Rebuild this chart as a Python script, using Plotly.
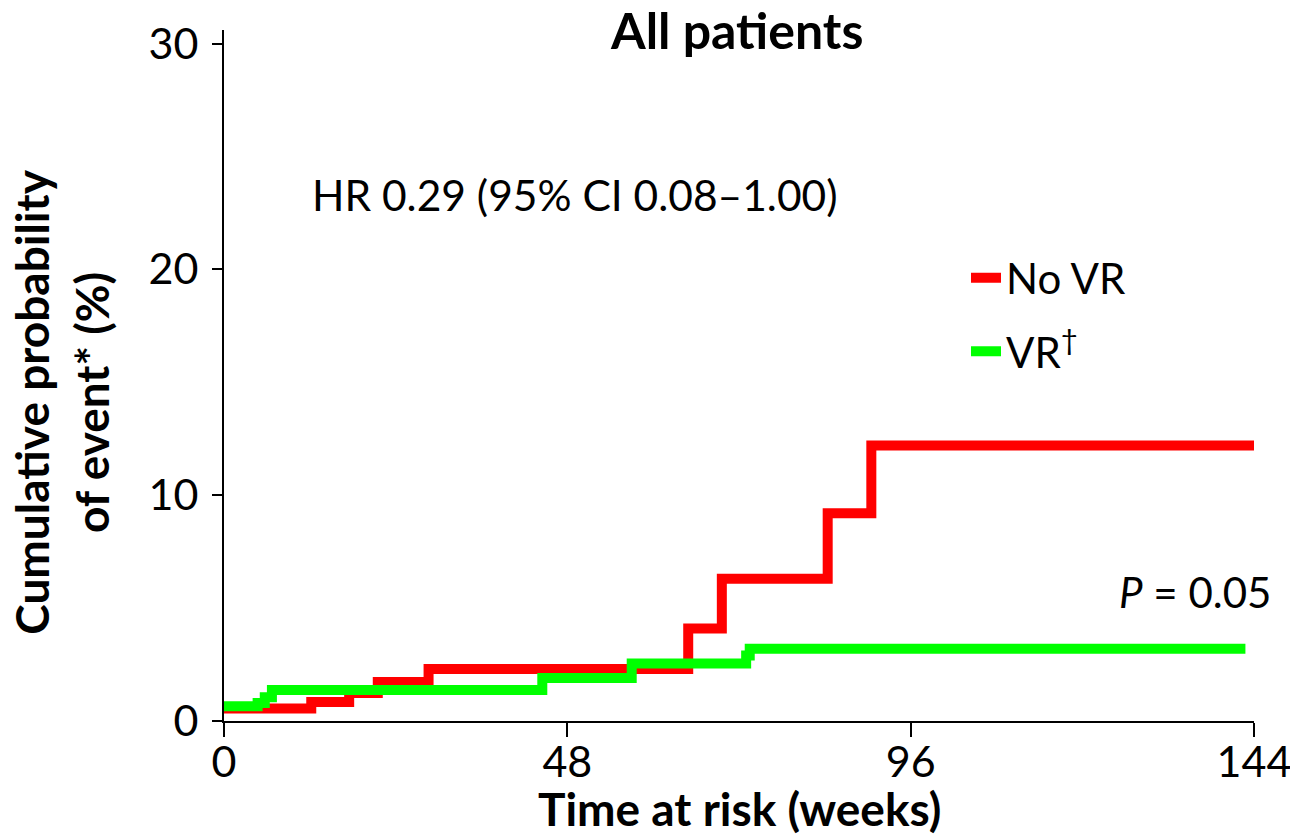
import plotly.graph_objects as go

# Kaplan-Meier style cumulative probability (%) by week
red_weeks = [0, 12.2, 17.5, 21.5, 28.6, 64.9, 69.6, 84.4, 90.5, 144]
red_pct = [0.55, 0.84, 1.24, 1.73, 2.3, 4.1, 6.3, 9.2, 12.2, 12.2]
green_weeks = [0, 4.7, 5.7, 6.7, 44.5, 57.0, 73.0, 73.5, 142.8]
green_pct = [0.65, 0.8, 1.05, 1.37, 1.9, 2.55, 2.9, 3.2, 3.2]

x_ticks = [0, 48, 96, 144]
y_ticks = [0, 10, 20, 30]
series_names = ["No VR", "VR<sup>†</sup>"]

FONT = "Lato"
L, R, T, B = 224, 36, 30, 114.5
PW, PH = 1290 - L - R, 836 - T - B


def px(xp):
    return (xp - L) / PW


def py(yp):
    return (836 - B - yp) / PH


fig = go.Figure()
fig.add_trace(go.Scatter(x=red_weeks, y=red_pct, mode="lines", line_shape="hv",
                         line=dict(color="#ff0000", width=10), name=series_names[0],
                         legendgroup="a"))
fig.add_trace(go.Scatter(x=green_weeks, y=green_pct, mode="lines", line_shape="hv",
                         line=dict(color="#00ff00", width=10), name=series_names[1],
                         legendgroup="b"))

fig.update_layout(
    width=1290, height=836,
    margin=dict(l=L, r=R, t=T, b=B, autoexpand=False),
    paper_bgcolor="white", plot_bgcolor="white",
    font=dict(family=FONT, color="black"),
    showlegend=True,
    legend=dict(x=px(966), y=py(244), xanchor="left", yanchor="top",
                font=dict(size=42, family=FONT), bgcolor="rgba(0,0,0,0)",
                tracegroupgap=16, itemwidth=30),
    xaxis=dict(range=[0, 144], tickvals=x_ticks, ticktext=[str(v) for v in x_ticks],
               showgrid=False, zeroline=False, showline=True, linecolor="black",
               linewidth=2, ticks="outside", ticklen=14, tickwidth=2, tickcolor="black",
               tickfont=dict(size=43, family=FONT), automargin=False,
               ticklabeloverflow="allow", ticklabelstandoff=-12),
    yaxis=dict(range=[0, 30.6], tickvals=y_ticks, ticktext=[str(v) for v in y_ticks],
               showgrid=False, zeroline=False, showline=True, linecolor="black",
               linewidth=2, ticks="outside", ticklen=10, tickwidth=2, tickcolor="black",
               tickfont=dict(size=43, family=FONT), automargin=False,
               ticklabeloverflow="allow", ticklabelstandoff=5),
)

# Title
fig.add_annotation(text="<b>All patients</b>", xref="paper", yref="paper",
                   x=px(736), y=py(30), showarrow=False, xanchor="center",
                   yanchor="middle", font=dict(size=50, family=FONT))
# Axis titles
fig.add_annotation(text="<b>Time at risk (weeks)</b>", xref="paper", yref="paper",
                   x=px(739), y=py(809), showarrow=False, xanchor="center",
                   yanchor="middle", font=dict(size=46, family=FONT))
fig.add_annotation(text="<b>Cumulative probability<br>of event* (%)</b>", xref="paper",
                   yref="paper", x=px(62), y=py(403), showarrow=False, textangle=-90,
                   xanchor="center", yanchor="middle", font=dict(size=46, family=FONT))
# Statistics
fig.add_annotation(text="HR 0.29 (95% CI 0.08–1.00)", xref="paper", yref="paper",
                   x=px(575), y=py(195), showarrow=False,
                   xanchor="center", yanchor="middle", font=dict(size=42.5, family=FONT))
fig.add_annotation(text="<i>P</i> = 0.05", xref="paper", yref="paper",
                   x=px(1273), y=py(592), showarrow=False,
                   xanchor="right", yanchor="middle", font=dict(size=42, family=FONT))

fig.write_html("out.html", config={"displayModeBar": False},
               post_script="document.body.style.margin='0px';"
                           "document.body.style.overflow='hidden';")
